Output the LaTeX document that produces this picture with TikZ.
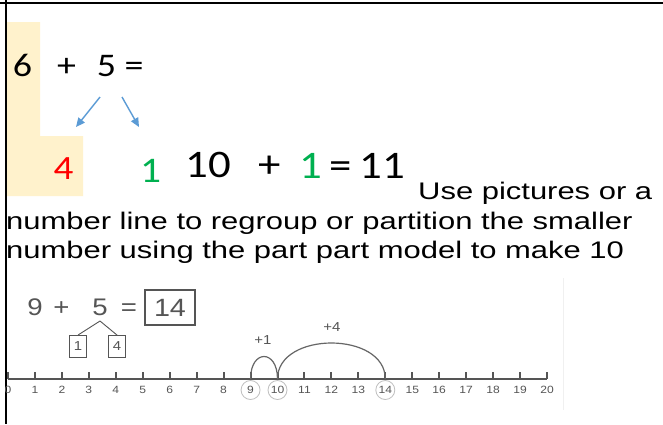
\documentclass[tikz,border=0pt]{standalone}
\usepackage{fontspec}
\newfontfamily\calib{Carlito}[FakeStretch=1.15]
\newfontfamily\arial{Liberation Sans}[FakeStretch=1.29]
\newfontfamily\arialnl{Liberation Sans}[FakeStretch=1.15]
\definecolor{wdbeige}{HTML}{FFF2CC}
\definecolor{wdred}{HTML}{FF0000}
\definecolor{wdgreen}{HTML}{00B050}
\definecolor{wdblue}{HTML}{5B9BD5}
\definecolor{nlgray}{HTML}{555555}
\usetikzlibrary{arrows.meta}

\begin{document}
\begin{tikzpicture}[x=1pt,y=-1pt,
    big/.style={inner sep=0pt,anchor=base,font=\calib\fontsize{33}{33}\selectfont},
    bigger/.style={inner sep=0pt,anchor=base,font=\calib\fontsize{39}{39}\selectfont},
    body/.style={inner sep=0pt,anchor=base west,font=\arial\fontsize{24}{29}\selectfont},
    nl/.style={inner sep=0pt,anchor=base,text=nlgray,font=\arialnl\fontsize{24}{24}\selectfont},
    lbl/.style={inner sep=0pt,text=nlgray,font=\arialnl\fontsize{10.5}{10.5}\selectfont},
    partbox/.style={draw=nlgray,line width=0.9pt,inner sep=0pt,text=nlgray,
                    minimum width=17pt,minimum height=22pt,font=\arialnl\fontsize{13}{13}\selectfont},
    splitarrow/.style={-{Triangle[length=9pt,width=8pt]},wdblue,line width=1.4pt}
  ]
    \useasboundingbox (0,0) rectangle (663,424);
    \fill[white] (0,0) rectangle (663,424);
    \fill[wdbeige] (7,22) -- (40,22) -- (40,136) -- (83,136) -- (83,196) -- (7,196) -- cycle;
    \draw[line width=1.5pt] (0,3) -- (663,3);
    \draw[line width=1.5pt] (6,0) -- (6,424);

    \node[big] (six) at (22.5,76) {6};
    \node[big] (plus) at (66.5,76) {+};
    \node[big] (five) at (106.5,76) {5};
    \node[big] (eq) at (134,76) {=};
    \coordinate (sl) at (100,97);
    \coordinate (sr) at (122,97);
    \coordinate (el) at (76,127);
    \coordinate (er) at (139,127);
    \draw[splitarrow] (sl) -- (el);
    \draw[splitarrow] (sr) -- (er);

    \node[inner sep=0pt,anchor=base,text=wdred,font=\calib\fontsize{34}{34}\selectfont] (four) at (63.5,179) {4};
    \node[inner sep=0pt,anchor=base,text=wdgreen,font=\calib\fontsize{36}{36}\selectfont] (one) at (150.5,182) {1};
    \node[bigger] (ten) at (208.5,177) {10};
    \node[bigger] (plustwo) at (270,177) {+};
    \node[bigger,text=wdgreen] (onetwo) at (311,178) {1};
    \node[bigger] (eqtwo) at (341,178) {=};
    \node[bigger] (eleven) at (382.5,178) {11};

    \node[body] (lineA) at (418,199) {Use pictures or a};
    \node[body] (lineB) at (6,229) {number line to regroup or partition the smaller};
    \node[body] (lineC) at (6,258) {number using the part part model to make 10};

    \node[nl] (nine) at (35,315) {9};
    \node[nl] (plusb) at (61.5,315) {+};
    \node[nl] (fiveb) at (100,315) {5};
    \node[nl] (eqb) at (129,315) {=};
    \node[draw=nlgray,line width=1.1pt,inner sep=0pt,text=nlgray,minimum width=50pt,
          minimum height=35pt,font=\arialnl\fontsize{25}{25}\selectfont] (sum) at (170,307.5) {14};
    \node[partbox] (partA) at (78,346.5) {1};
    \node[partbox] (partB) at (117,346.5) {4};
    \coordinate (fork) at (100,321);
    \draw[nlgray,line width=0.9pt] (fork) -- (partA.north);
    \draw[nlgray,line width=0.9pt] (fork) -- (partB.north);

    \draw[nlgray,line width=2.6pt] (8,379) -- (547,379);
    \foreach \i in {0,...,20} {
      \coordinate (t\i) at ({8+26.95*\i},379);
      \draw[nlgray,line width=2pt] (t\i) -- ++(0,-7);
      \node[lbl] (n\i) at ({8+26.95*\i},390) {\i};
    }
    \foreach \i in {9,10,14}
      \draw[gray!50,line width=0.8pt] (n\i) circle[radius=9.5];
    \draw[gray!80!black,line width=1.2pt] (t9) .. controls +(0,-30) and +(0,-30) .. (t10);
    \draw[gray!80!black,line width=1.2pt] (t10) .. controls +(0,-48) and +(0,-48) .. (t14);
    \node[lbl,font=\arialnl\fontsize{13}{13}\selectfont] (jumpA) at (263,340) {+1};
    \node[lbl,font=\arialnl\fontsize{13}{13}\selectfont] (jumpB) at (332,327) {+4};
    \draw[gray!12] (563,278) -- (563,410);
  \end{tikzpicture}
\end{document}
